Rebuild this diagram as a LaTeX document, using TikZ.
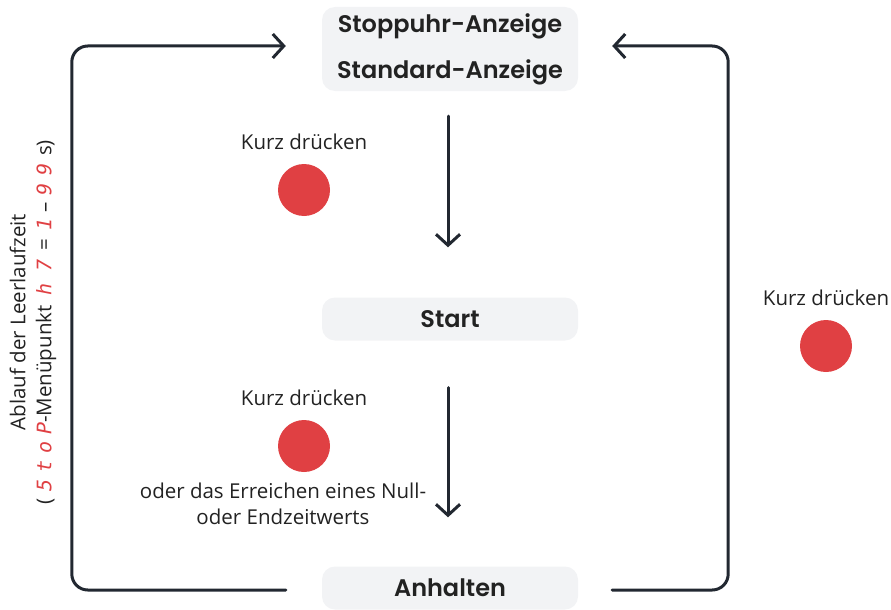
\documentclass[tikz,border=0pt]{standalone}
\usepackage{fontspec}
\setmainfont{Open Sans}
\newfontfamily\poppins{Poppins}[BoldFont={Poppins SemiBold}]
\newfontfamily\segfont{DejaVu Sans Mono}
\usepackage{xcolor}
\usetikzlibrary{calc, positioning, arrows.meta}
\definecolor{boxgray}{HTML}{F2F3F5}
\definecolor{linedark}{HTML}{222831}
\definecolor{btnred}{HTML}{E04043}
\definecolor{txtdark}{HTML}{222222}
\newcommand{\seg}[1]{\textcolor{btnred}{\segfont\slshape\fontsize{20}{26}\selectfont #1}}

\begin{document}
\begin{tikzpicture}[x=1pt, y=-1pt, font=\fontsize{20.5}{26}\selectfont, text=txtdark,
    statebox/.style={fill=boxgray, rounded corners=13pt, minimum width=256pt, minimum height=43pt,
        font=\poppins\bfseries\fontsize{24}{46}\selectfont, align=center, inner sep=0pt},
    flow/.style={draw=linedark, line width=3pt, line cap=round, rounded corners=16pt,
        -{Straight Barb[length=11pt, width=24pt]}},
    button/.style={circle, fill=btnred, minimum size=52pt, inner sep=0pt}]
    \useasboundingbox (0,0) rectangle (891,610);

    % States
    \node[statebox, minimum height=84pt] (stopwatch) at (450,49) {Stoppuhr-Anzeige\\Standard-Anzeige};
    \node[statebox] (start) at (450,319) {Start};
    \node[statebox] (halt) at (450,588) {Anhalten};

    % Buttons
    \node (lblA) at (304,142) {Kurz drücken};
    \node[button] (btnA) at (304,190) {};
    \node (lblB) at (304,398) {Kurz drücken};
    \node[button] (btnB) at (304,446) {};
    \node[align=center] (lblC) at (283,504) {oder das Erreichen eines Null-\\oder Endzeitwerts};
    \node (lblD) at (826,298) {Kurz drücken};
    \node[button] (btnD) at (826,346) {};

    % Flow
    \draw[flow] ([xshift=-2pt, yshift=-25pt]stopwatch.south) -- ([xshift=-2pt, yshift=50pt]start.north);
    \draw[flow] ([xshift=-2pt, yshift=-47pt]start.south) -- ([xshift=-2pt, yshift=49pt]halt.north);

    % Loops back
    \draw[flow] ([xshift=-36pt, yshift=-2pt]halt.west) -| ([xshift=-250pt, yshift=3pt]stopwatch.west)
        -- ([xshift=-36pt, yshift=3pt]stopwatch.west);
    \draw[flow] ([xshift=34pt, yshift=-2pt]halt.east) -| ([xshift=150pt, yshift=3pt]stopwatch.east)
        -- ([xshift=34pt, yshift=3pt]stopwatch.east);

    % Timeout
    \node[rotate=90, align=center] (timeout) at (33,322)
        {Ablauf der Leerlaufzeit\\(\hspace{6pt}\seg{5\hspace{7pt}t\hspace{7pt}o\hspace{7pt}P}-Menüpunkt\hspace{4pt}
        \seg{h\hspace{12pt}7}\hspace{9pt}=\hspace{9pt}\seg{1}\hspace{6pt}--\hspace{6pt}\seg{9\hspace{8pt}9}\hspace{8pt}s)};
\end{tikzpicture}
\end{document}
